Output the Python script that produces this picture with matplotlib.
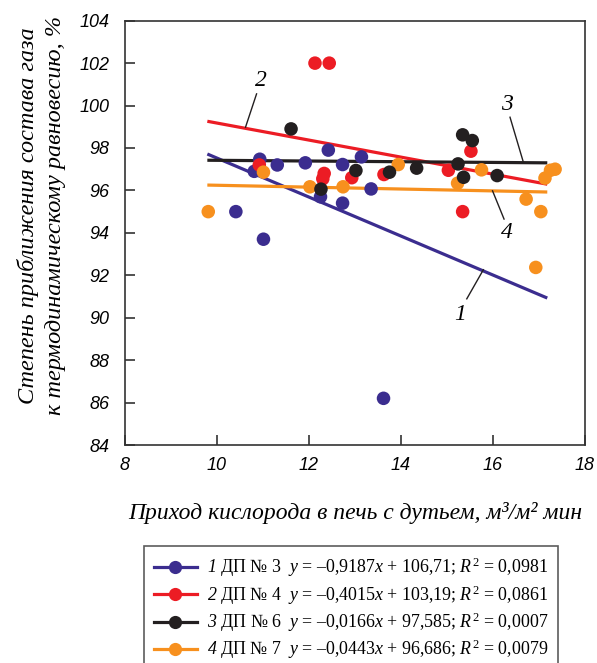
import matplotlib
matplotlib.use("Agg")
import matplotlib.pyplot as plt
from matplotlib.lines import Line2D
import numpy as np

plt.rcParams['mathtext.fontset'] = 'custom'
plt.rcParams['mathtext.rm'] = 'Liberation Serif'
plt.rcParams['mathtext.it'] = 'Liberation Serif:italic'
plt.rcParams['mathtext.sf'] = 'Liberation Serif:italic'

# ---- data ----
blue_x = [10.41, 10.81, 10.93, 11.01, 11.31, 11.92, 12.25, 12.42, 12.73, 12.73, 13.14, 13.35, 13.62]
blue_y = [95.0, 96.9, 97.47, 93.7, 97.2, 97.3, 95.7, 97.9, 97.22, 95.4, 97.58, 96.07, 86.2]

red_x = [10.92, 12.13, 12.44, 12.30, 12.33, 12.93, 13.63, 15.03, 15.34, 15.52]
red_y = [97.2, 102.0, 102.0, 96.55, 96.8, 96.6, 96.75, 96.95, 95.0, 97.85]

black_x = [11.61, 12.26, 13.02, 13.75, 14.34, 15.24, 15.36, 15.34, 15.55, 16.09]
black_y = [98.9, 96.06, 96.94, 96.86, 97.05, 97.25, 96.62, 98.62, 98.35, 96.7]

orange_x = [9.81, 11.01, 12.02, 12.74, 13.94, 15.23, 15.75, 16.72, 16.93, 17.04, 17.13, 17.25, 17.35]
orange_y = [95.0, 96.86, 96.17, 96.17, 97.22, 96.34, 96.97, 95.59, 92.37, 95.0, 96.58, 96.95, 97.0]

slopes = [-0.9187, -0.4015, -0.0166, -0.0443]
intercepts = [106.71, 103.19, 97.585, 96.686]
fit_x_range = [9.79, 17.18]

series_names = ["1", "2", "3", "4"]
furnaces = ["ДП № 3", "ДП № 4", "ДП № 6", "ДП № 7"]
slope_txt = ["0,9187", "0,4015", "0,0166", "0,0443"]
icpt_txt = ["106,71", "103,19", "97,585", "96,686"]
r2_txt = ["0,0981", "0,0861", "0,0007", "0,0079"]

x_ticks = [8, 10, 12, 14, 16, 18]
y_ticks = [84, 86, 88, 90, 92, 94, 96, 98, 100, 102, 104]

colors = ["#3b2d8f", "#ec1c24", "#231f20", "#f7901e"]

xs = [blue_x, red_x, black_x, orange_x]
ys = [blue_y, red_y, black_y, orange_y]

# ---- figure ----
fig = plt.figure(figsize=(5.97, 6.63), dpi=100)
ax = fig.add_axes([125/597, 1-445/663, 460/597, (445-20.7)/663])

lx = np.array(fit_x_range)
for i in range(4):
    ax.plot(lx, slopes[i]*lx + intercepts[i], color=colors[i], lw=2.3,
            solid_capstyle='butt', zorder=2)

point_order = [0, 1, 3, 2]
for k, i in enumerate(point_order):
    ax.scatter(xs[i], ys[i], s=95, color=colors[i], edgecolors='none', zorder=3+k)

ax.set_xlim(8, 18)
ax.set_ylim(84, 104)
ax.set_xticks(x_ticks)
ax.set_yticks(y_ticks)
ax.set_xticklabels([str(v) for v in x_ticks])
ax.set_yticklabels([str(v) for v in y_ticks])
for lbl in ax.get_xticklabels() + ax.get_yticklabels():
    lbl.set_fontfamily('Liberation Sans')
    lbl.set_fontstyle('italic')
    lbl.set_fontsize(13)
ax.tick_params(direction='in', length=7, width=1.2, color='#333333', pad=9)
ax.tick_params(axis='y', pad=11)
for sp in ax.spines.values():
    sp.set_color('#333333')
    sp.set_linewidth(1.2)

serif_it = dict(family='Liberation Serif', style='italic')
ax.set_xlabel("Приход кислорода в печь с дутьем, м³/м² мин", fontsize=17,
              labelpad=20, **serif_it)
ax.set_ylabel("Степень приближения состава газа\nк термодинамическому равновесию, %",
              fontsize=17.5, linespacing=1.4, **serif_it)
ax.yaxis.set_label_coords(-0.128, 0.54)

# curve labels with leader lines
labels_pos = [
    ("1", (15.28, 90.14), (15.79, 92.26), (15.43, 90.89)),
    ("2", (10.95, 101.2), (10.62, 98.98), (10.86, 100.55)),
    ("3", (16.30, 100.03), (16.66, 97.33), (16.37, 99.45)),
    ("4", (16.31, 94.01), (15.99, 95.98), (16.24, 94.65)),
]
for txt, tp, p0, p1 in labels_pos:
    ax.text(tp[0], tp[1], txt, fontsize=17, ha='center', va='center', zorder=10, **serif_it)
    ax.plot([p0[0], p1[0]], [p0[1], p1[1]], color='#231f20', lw=1.0, zorder=10)

# legend
handles = []
labels = []
for i in range(4):
    handles.append(Line2D([0], [0], color=colors[i], lw=2.3, marker='o',
                          markersize=9.5, markeredgewidth=0))
    labels.append(r"$\mathsf{%s}$ %s  $\mathit{y}$ = –%s$\mathit{x}$ + %s; $\mathit{R}^{2}$ = %s"
                  % (series_names[i], furnaces[i], slope_txt[i], icpt_txt[i], r2_txt[i]))
leg = fig.legend(handles, labels, loc='upper left',
                 bbox_to_anchor=(144/597, 1-546/663),
                 prop=dict(family='Liberation Serif', size=12.9),
                 frameon=True, fancybox=False, edgecolor='#333333',
                 handlelength=2.4, handletextpad=0.55, labelspacing=0.22,
                 borderpad=0.55, borderaxespad=0)
leg.get_frame().set_linewidth(1.2)

fig.savefig("out.png", dpi=100)
